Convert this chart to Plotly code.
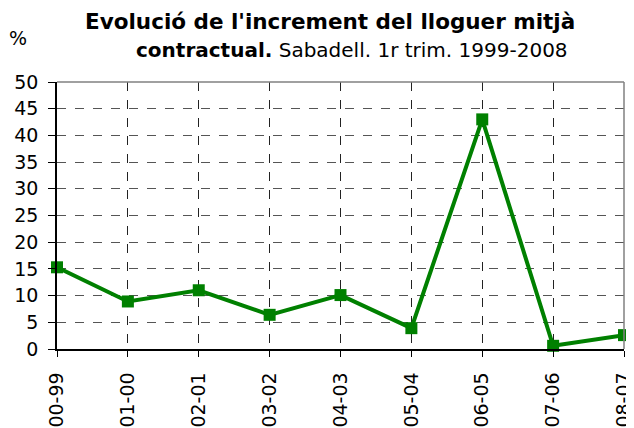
import plotly.graph_objects as go

categories = ["00-99", "01-00", "02-01", "03-02", "04-03", "05-04", "06-05", "07-06", "08-07"]
values = [15.3, 8.9, 11.0, 6.4, 10.1, 3.9, 43.0, 0.6, 2.6]
y_ticks = [0, 5, 10, 15, 20, 25, 30, 35, 40, 45, 50]

title_line1 = "<b>Evolució de l'increment del lloguer mitjà</b>"
title_line2 = "<b>contractual.</b> Sabadell. 1r trim. 1999-2008"
unit_label = "%"

FONT = "DejaVu Sans, Liberation Sans, Arial, sans-serif"
GREEN = "#008000"

fig = go.Figure(
    go.Scatter(
        x=categories,
        y=values,
        mode="lines+markers",
        line=dict(color=GREEN, width=4),
        marker=dict(symbol="square", size=12, color=GREEN),
        cliponaxis=False,
        showlegend=False,
    )
)

# the page body adds an 8px offset; figure is sized so that it ends at the window edge
OFF = 8
W, H = 634 - OFF, 428 - OFF
L, T = 57 - OFF, 82 - OFF
R = W - (624 - OFF)
B = H - (349 - OFF)
pw, ph = W - L - R, H - T - B

def px_x(x):
    return (x - OFF - L) / pw

def px_y(y):
    return (H - B - (y - OFF)) / ph

fig.update_layout(
    width=W,
    height=H,
    margin=dict(l=L, r=R, t=T, b=B, autoexpand=False),
    paper_bgcolor="white",
    plot_bgcolor="white",
    font=dict(family=FONT, color="black", size=19),
    xaxis=dict(
        type="category",
        range=[0, len(categories) - 1],
        automargin=False,
        showgrid=True,
        gridcolor="#222222",
        griddash="dash",
        gridwidth=1,
        showline=True,
        linecolor="black",
        linewidth=1.5,
        ticks="outside",
        ticklen=6,
        tickcolor="black",
        tickangle=-90,
        tickfont=dict(size=19, family=FONT),
        ticklabelstandoff=8,
        zeroline=False,
    ),
    yaxis=dict(
        range=[0, 50],
        tickvals=y_ticks,
        automargin=False,
        showgrid=True,
        gridcolor="#555555",
        griddash="dash",
        gridwidth=1,
        showline=True,
        linecolor="black",
        linewidth=1.5,
        ticks="outside",
        ticklen=7,
        tickcolor="black",
        tickfont=dict(size=19, family=FONT),
        ticklabelstandoff=6,
        zeroline=False,
    ),
    shapes=[
        dict(type="line", xref="paper", yref="paper", x0=0, x1=1, y0=1, y1=1,
             line=dict(color="#808080", width=1.5), layer="above"),
        dict(type="line", xref="paper", yref="paper", x0=1, x1=1, y0=0, y1=1,
             line=dict(color="#808080", width=1.5), layer="above"),
    ],
    annotations=[
        dict(text=title_line1, xref="paper", yref="paper", x=px_x(330), y=px_y(22),
             xanchor="center", yanchor="middle", showarrow=False,
             font=dict(size=21.5, family=FONT)),
        dict(text=title_line2, xref="paper", yref="paper", x=px_x(352), y=px_y(50),
             xanchor="center", yanchor="middle", showarrow=False,
             font=dict(size=20, family=FONT)),
        dict(text=unit_label, xref="paper", yref="paper", x=px_x(18), y=px_y(38),
             xanchor="center", yanchor="middle", showarrow=False,
             font=dict(size=19, family=FONT)),
    ],
)

fig.write_html("out.html")
